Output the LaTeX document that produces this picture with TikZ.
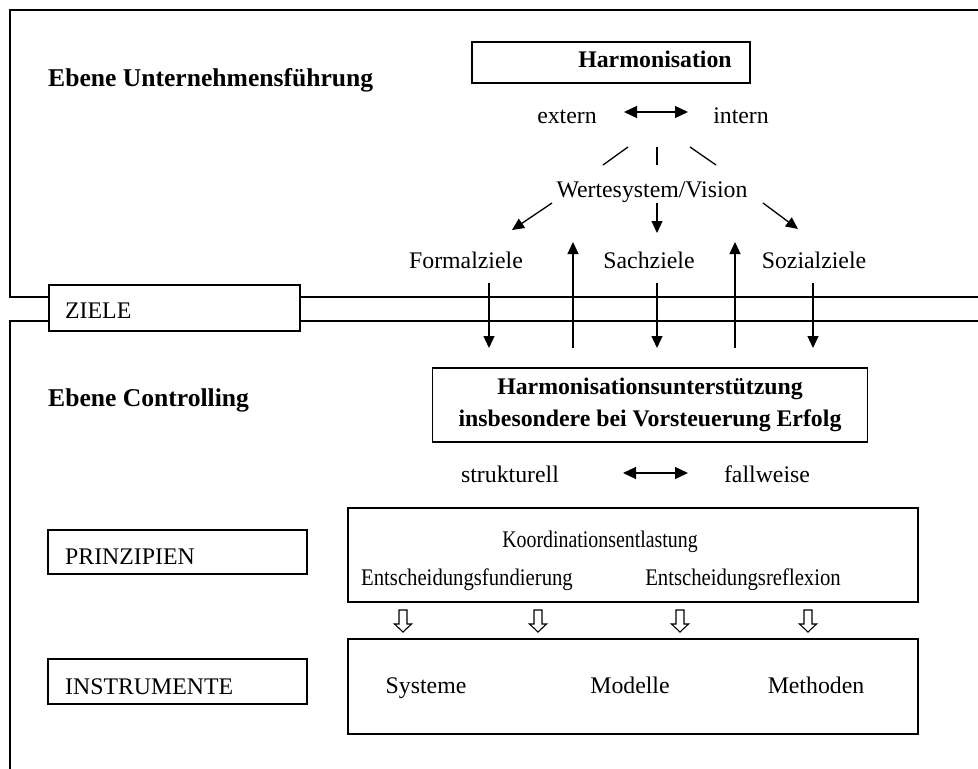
\documentclass[tikz,border=0pt]{standalone}
\usepackage{fontspec}
\setmainfont{Liberation Serif}
\usetikzlibrary{arrows.meta}
\begin{document}
\begin{tikzpicture}[x=1bp,y=-1bp,
  every node/.style={font=\fontsize{23.8bp}{28bp}\selectfont, inner sep=0pt},
  txt/.style={anchor=base},
  ltxt/.style={anchor=base west},
  bold/.style={font=\fontsize{23.8bp}{32bp}\selectfont\bfseries},
  head/.style={font=\fontsize{25.6bp}{30bp}\selectfont\bfseries},
  frame/.style={line width=1.6bp},
  box/.style={draw, line width=1.5bp},
  arr/.style={line width=1.3bp, -{Triangle[length=12bp,width=11bp]}},
  darr/.style={line width=1.3bp, {Triangle[length=13bp,width=12bp]}-{Triangle[length=13bp,width=12bp]}},
  plain/.style={line width=1.3bp},
  hollow/.pic={\draw[line width=1.1bp] (-4,-11) -- (-4,3) -- (-8.5,3) -- (0,11) -- (8.5,3) -- (4,3) -- (4,-11) -- cycle;}
]
\useasboundingbox (0,0) rectangle (978,769);

% ---------- left-hand boxes ----------
\node[box, minimum width=251bp, minimum height=46bp] (ziele) at (174.5,308) {};
\node[ltxt] (zieletxt) at (65,318) {ZIELE};
\node[box, minimum width=259bp, minimum height=44bp] (prinz) at (177.5,552) {};
\node[ltxt] (prinztxt) at (65,564) {PRINZIPIEN};
\node[box, minimum width=259bp, minimum height=45bp] (instr) at (177.5,681.5) {};
\node[ltxt] (instrtxt) at (65,694) {INSTRUMENTE};

% ---------- frames of the two levels ----------
\draw[frame] (ziele.west |- 0,297) -- (10,297) -- (10,10) -- (978,10);
\draw[frame] (ziele.east |- 0,297) -- (978,297);
\draw[frame] (ziele.east |- 0,321) -- (978,321);
\draw[frame] (ziele.west |- 0,321) -- (10,321) -- (10,769);

% ---------- level headings ----------
\node[ltxt, head] (ebeneU) at (48,87) {Ebene Unternehmensführung};
\node[ltxt, head] (ebeneC) at (48,406) {Ebene Controlling};

% ---------- upper level ----------
\node[box, minimum width=278bp, minimum height=41bp] (harm) at (611,62.5) {};
\node[txt, bold] (harmtxt) at (655,68) {Harmonisation};

\node[txt] (extern) at (567,123) {extern};
\node[txt] (intern) at (741,123) {intern};
\coordinate (ei1) at (624,112);
\coordinate (ei2) at (688,112);
\draw[darr] (ei1) -- (ei2);

\coordinate (l1a) at (628,147); \coordinate (l1b) at (603,165);
\coordinate (l2a) at (657,147); \coordinate (l2b) at (657,165);
\coordinate (l3a) at (690,147); \coordinate (l3b) at (716,165);
\draw[plain] (l1a) -- (l1b);
\draw[plain] (l2a) -- (l2b);
\draw[plain] (l3a) -- (l3b);

\node[txt] (werte) at (652,197) {Wertesystem/Vision};

\coordinate (w1a) at (552,203); \coordinate (w1b) at (512,230);
\coordinate (w2a) at (657,203); \coordinate (w2b) at (657,233);
\coordinate (w3a) at (763,203); \coordinate (w3b) at (798,229);
\draw[arr] (w1a) -- (w1b);
\draw[arr] (w2a) -- (w2b);
\draw[arr] (w3a) -- (w3b);

\node[txt] (formal) at (466,268) {Formalziele};
\node[txt] (sach) at (649,268) {Sachziele};
\node[txt] (sozial) at (814,268) {Sozialziele};

% ---------- arrows crossing the level border ----------
\coordinate (d1a) at (489,283); \coordinate (d1b) at (489,348);
\coordinate (d2a) at (657,283); \coordinate (d2b) at (657,348);
\coordinate (d3a) at (813,283); \coordinate (d3b) at (813,348);
\coordinate (u1a) at (573,348); \coordinate (u1b) at (573,242);
\coordinate (u2a) at (735,348); \coordinate (u2b) at (735,242);
\draw[arr] (d1a) -- (d1b);
\draw[arr] (d2a) -- (d2b);
\draw[arr] (d3a) -- (d3b);
\draw[arr] (u1a) -- (u1b);
\draw[arr] (u2a) -- (u2b);

% ---------- controlling level ----------
\node[box, bold, align=center, minimum width=435bp, minimum height=74bp] (hunt) at (650,405)
  {Harmonisationsunterstützung\\insbesondere bei Vorsteuerung Erfolg};

\node[txt] (strukt) at (510,482) {strukturell};
\node[txt] (fallw) at (767,482) {fallweise};
\coordinate (sf1) at (623,473);
\coordinate (sf2) at (688,473);
\draw[darr] (sf1) -- (sf2);

\node[box, minimum width=570bp, minimum height=94bp] (koord) at (633,555) {};
\node[txt] (koordtxt) at (600,547) {\scalebox{0.835}[1]{Koordinationsentlastung}};
\node[txt] (fund) at (467,585) {\scalebox{0.87}[1]{Entscheidungsfundierung}};
\node[txt] (refl) at (743,585) {\scalebox{0.87}[1]{Entscheidungsreflexion}};

\pic at (403,621) {hollow};
\pic at (538,621) {hollow};
\pic at (680,621) {hollow};
\pic at (808,621) {hollow};

\node[box, minimum width=570bp, minimum height=95bp] (inst) at (633,686.5) {};
\node[txt] (sys) at (426,693) {Systeme};
\node[txt] (mod) at (630,693) {Modelle};
\node[txt] (meth) at (816,693) {Methoden};
\end{tikzpicture}
\end{document}
